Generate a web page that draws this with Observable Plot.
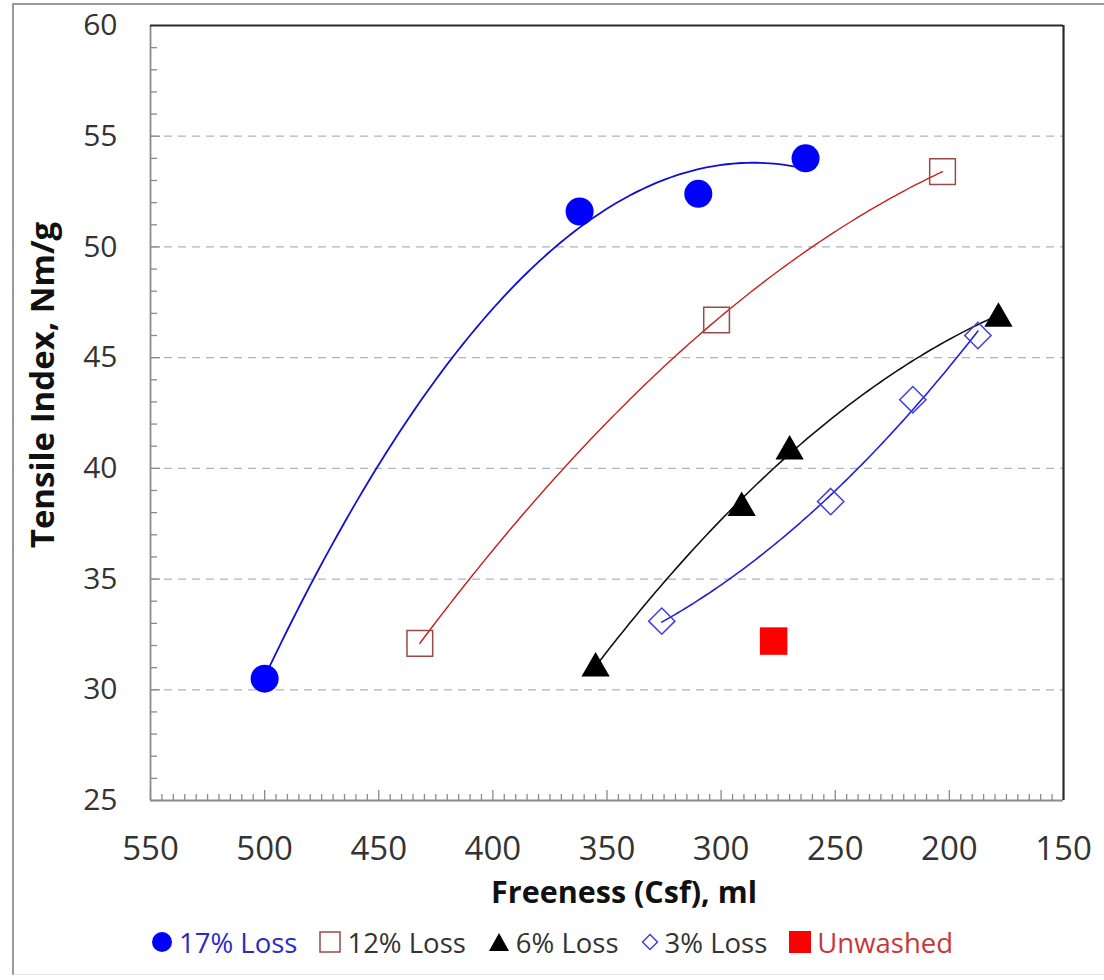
<!DOCTYPE html>
<html>
<head>
<meta charset="utf-8">
<script src="https://cdn.jsdelivr.net/npm/d3@7"></script>
<script src="https://cdn.jsdelivr.net/npm/@observablehq/plot@0.6"></script>
<style>
  html, body { margin: 0; padding: 0; background: #fff; }
  body { width: 1104px; height: 980px; position: relative; overflow: hidden; font-family: "Open Sans", sans-serif; }
  #border { position: absolute; left: 12px; top: 3px; width: 1110px; height: 972px; border-left: 2px solid #9a9a9a; border-top: 2px solid #9a9a9a; border-bottom: 1px solid #e4e4e4; box-sizing: border-box; }
  #chart { position: absolute; left: 0; top: 0; }
  #legend { position: absolute; left: 0; top: 922px; width: 1104px; height: 40px; display: flex; justify-content: center; align-items: center; font-size: 27.5px; color: #333; }
  .item { display: flex; align-items: center; margin: 0 11px; }
  .item svg { margin-right: 6px; }
</style>
</head>
<body>
<div id="border"></div>
<div id="chart"></div>
<div id="legend"></div>
<script>
// ---- data ----
const freeness17 = [500, 362, 310, 263];
const tensile17  = [30.5, 51.6, 52.4, 54.0];
const freeness12 = [432, 302, 203];
const tensile12  = [32.1, 46.7, 53.4];
const freeness6  = [355, 291, 270, 178.5];
const tensile6   = [31.1, 38.35, 40.9, 46.9];
const freeness3  = [326, 252, 216, 187.5];
const tensile3   = [33.1, 38.5, 43.1, 46.0];
const freenessUnwashed = [277];
const tensileUnwashed  = [32.2];

const seriesNames = ["17% Loss", "12% Loss", "6% Loss", "3% Loss", "Unwashed"];
const xTicks = [550, 500, 450, 400, 350, 300, 250, 200, 150];
const yTicks = [25, 30, 35, 40, 45, 50, 55, 60];
const yGrid  = [30, 35, 40, 45, 50, 55];
const xMinor = d3.range(550, 150, -5);
const yMinor = d3.range(25, 60, 1);

// ---- helpers ----
const toRows = (xs, ys) => xs.map((x, i) => ({x, y: ys[i]}));
// second-order polynomial least-squares trendline (as in the original spreadsheet)
function quadFit(xs, ys) {
  const m = d3.mean(xs);
  const u = xs.map(x => x - m);
  const S = k => d3.sum(u, v => v ** k);
  const T = k => d3.sum(u, (v, i) => v ** k * ys[i]);
  const A = [[S(4), S(3), S(2)], [S(3), S(2), S(1)], [S(2), S(1), xs.length]];
  const b = [T(2), T(1), T(0)];
  const det = M => M[0][0]*(M[1][1]*M[2][2]-M[1][2]*M[2][1]) - M[0][1]*(M[1][0]*M[2][2]-M[1][2]*M[2][0]) + M[0][2]*(M[1][0]*M[2][1]-M[1][1]*M[2][0]);
  const D = det(A);
  const coef = [0, 1, 2].map(c => det(A.map((row, r) => row.map((v, j) => j === c ? b[r] : v))) / D);
  const [lo, hi] = d3.extent(xs);
  return d3.range(0, 121).map(i => {
    const x = lo + (hi - lo) * i / 120, v = x - m;
    return {x, y: coef[0] * v * v + coef[1] * v + coef[2]};
  });
}

const diamond = {
  draw(ctx, size) {
    const s = Math.sqrt(size / 2);
    ctx.moveTo(0, -s); ctx.lineTo(s, 0); ctx.lineTo(0, s); ctx.lineTo(-s, 0); ctx.closePath();
  }
};

const d17 = toRows(freeness17, tensile17);
const d12 = toRows(freeness12, tensile12);
const d6  = toRows(freeness6, tensile6);
const d3s = toRows(freeness3, tensile3);
const dU  = toRows(freenessUnwashed, tensileUnwashed);

const pxPerY = 775 / 35, pxPerX = 913 / 400;

const chart = Plot.plot({
  width: 1104,
  height: 918,
  marginLeft: 150,
  marginRight: 41,
  marginTop: 25,
  marginBottom: 118,
  style: { fontFamily: "Open Sans, sans-serif", background: "transparent" },
  x: { domain: [550, 150], axis: null },
  y: { domain: [25, 60], axis: null },
  marks: [
    // dashed gridlines
    Plot.ruleY(yGrid, { y: d => d, stroke: "#a9b4c8", strokeWidth: 1.3, strokeDasharray: "8,6" }),
    // minor / major ticks pointing inward
    Plot.ruleX(xMinor, { x: d => d, y1: 25, y2: d => 25 + (d % 50 === 0 ? 10 : 6) / pxPerY, stroke: "#8a8a8a", strokeWidth: 1.3 }),
    Plot.ruleY(yMinor, { y: d => d, x1: 550, x2: d => 550 - (d % 5 === 0 ? 10 : 7) / pxPerX, stroke: "#8a8a8a", strokeWidth: 1.3 }),
    // frame
    Plot.ruleX([550], { stroke: "#8a8a8a", strokeWidth: 1.8 }),
    Plot.ruleY([25], { stroke: "#8a8a8a", strokeWidth: 1.8 }),
    Plot.ruleY([60], { stroke: "#2a2a2a", strokeWidth: 2.2 }),
    Plot.ruleX([150], { stroke: "#2a2a2a", strokeWidth: 2.2 }),
    // axes labels
    Plot.axisX(xTicks, { label: null, tickSize: 0, tickPadding: 36, fontSize: 33, color: "#333", fontFamily: "Open Sans, sans-serif" }),
    Plot.axisY(yTicks, { label: null, tickSize: 0, tickPadding: 33, fontSize: 30, color: "#333", fontFamily: "Open Sans, sans-serif" }),
    Plot.text(["Freeness (Csf), ml"], { frameAnchor: "bottom", dx: 17, dy: 93, text: d => d, fontSize: 30.5, fontWeight: "bold", fill: "#111", lineAnchor: "middle" }),
    Plot.text(["Tensile Index, Nm/g"], { frameAnchor: "left", dx: -107, dy: -28, rotate: -90, text: d => d, textAnchor: "middle", fontSize: 33, fontWeight: "bold", fill: "#111", lineAnchor: "middle" }),
    // trendlines
    Plot.line(quadFit(freeness17, tensile17), { x: "x", y: "y", stroke: "#1010d0", strokeWidth: 1.8 }),
    Plot.line(quadFit(freeness12, tensile12), { x: "x", y: "y", stroke: "#c42020", strokeWidth: 1.4 }),
    Plot.line(quadFit(freeness6, tensile6), { x: "x", y: "y", stroke: "#111", strokeWidth: 1.6 }),
    Plot.line(quadFit(freeness3, tensile3), { x: "x", y: "y", stroke: "#2020d8", strokeWidth: 1.6 }),
    // points
    Plot.dot(d17, { x: "x", y: "y", r: 14, fill: "#0000ff", stroke: "none" }),
    Plot.dot(d12, { x: "x", y: "y", symbol: "square", r: 14.5, fill: "none", stroke: "#9a4848", strokeWidth: 1.5 }),
    Plot.dot(d6, { x: "x", y: "y", symbol: "triangle", r: 10.5, fill: "#000", stroke: "none", dy: 3 }),
    Plot.dot(d3s, { x: "x", y: "y", symbol: diamond, r: 10.5, fill: "none", stroke: "#4040e0", strokeWidth: 1.5 }),
    Plot.dot(dU, { x: "x", y: "y", symbol: "square", r: 15.5, fill: "#ff0000", stroke: "none" })
  ]
});
document.getElementById("chart").appendChild(chart);

// ---- legend ----
const legendMarkers = [
  '<svg width="22" height="22"><circle cx="11" cy="11" r="10" fill="#0000ff"/></svg>',
  '<svg width="22" height="22"><rect x="1" y="1" width="20" height="20" fill="none" stroke="#9a4848" stroke-width="1.5"/></svg>',
  '<svg width="22" height="22"><path d="M11,2 L21,20 L1,20 Z" fill="#000"/></svg>',
  '<svg width="18" height="18"><path d="M9,1.5 L16.5,9 L9,16.5 L1.5,9 Z" fill="none" stroke="#4040e0" stroke-width="1.5"/></svg>',
  '<svg width="22" height="22"><rect x="0" y="0" width="22" height="22" fill="#ff0000"/></svg>'
];
const legendColors = ["#2b2bc8", "#333", "#333", "#333", "#c83838"];
const legend = document.getElementById("legend");
seriesNames.forEach((name, i) => {
  const item = document.createElement("div");
  item.className = "item";
  item.innerHTML = legendMarkers[i] + `<span style="color:${legendColors[i]}">${name}</span>`;
  legend.appendChild(item);
});
</script>
</body>
</html>
